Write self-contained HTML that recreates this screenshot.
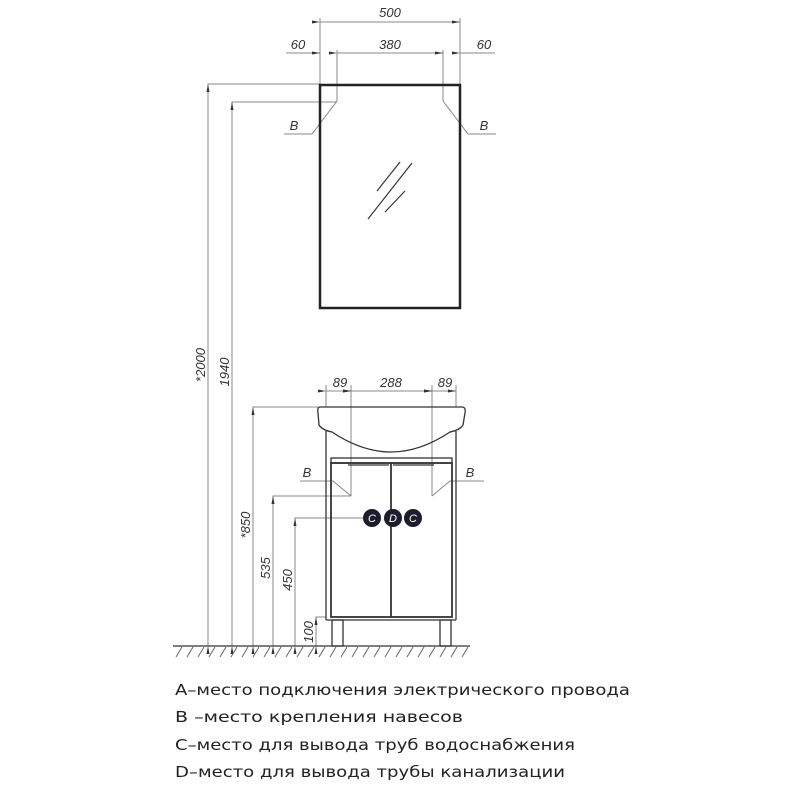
<!DOCTYPE html>
<html><head><meta charset="utf-8"><style>html,body{margin:0;padding:0;background:#fff}svg{display:block}</style></head>
<body>
<svg width="800" height="800" viewBox="0 0 800 800" xmlns="http://www.w3.org/2000/svg">
<defs>
<marker id="a" markerWidth="8" markerHeight="6" refX="8" refY="3" orient="auto" markerUnits="userSpaceOnUse"><path d="M0,1.5 L8,3 L0,4.5z" fill="#333"/></marker>
</defs>
<g stroke="#888" stroke-width="1" fill="none">
<line x1="320" y1="18" x2="320" y2="85"/>
<line x1="460" y1="18" x2="460" y2="85"/>
<line x1="320" y1="22" x2="460" y2="22" marker-start="url(#a)" marker-end="url(#a)"/>
<line x1="337" y1="50" x2="337" y2="101"/>
<line x1="443" y1="50" x2="443" y2="101"/>
<line x1="286" y1="53" x2="320" y2="53" marker-end="url(#a)"/>
<line x1="337" y1="53" x2="443" y2="53" marker-start="url(#a)" marker-end="url(#a)"/>
<line x1="460" y1="53" x2="495" y2="53" marker-start="url(#a)"/>
<polyline points="337,101 312,134 284,134"/>
<polyline points="443,101 468,134 496,134"/>
<polyline points="320,84 208,84 208,646"/>
<polyline points="337,102 232,102 232,646"/>
<line x1="208" y1="646" x2="208" y2="84" marker-end="url(#a)" marker-start="url(#a)"/>
<line x1="232" y1="646" x2="232" y2="102" marker-end="url(#a)" marker-start="url(#a)"/>
<line x1="326" y1="385" x2="326" y2="407"/>
<line x1="456" y1="385" x2="456" y2="407"/>
<line x1="351" y1="385" x2="351" y2="496"/>
<line x1="432" y1="385" x2="432" y2="496"/>
<line x1="326" y1="391" x2="351" y2="391" marker-start="url(#a)" marker-end="url(#a)"/>
<line x1="351" y1="391" x2="432" y2="391" marker-start="url(#a)" marker-end="url(#a)"/>
<line x1="432" y1="391" x2="456" y2="391" marker-start="url(#a)" marker-end="url(#a)"/>
<polyline points="318,407 253,407 253,646"/>
<line x1="253" y1="646" x2="253" y2="407" marker-end="url(#a)" marker-start="url(#a)"/>
<polyline points="351,496 273,496 273,646"/>
<line x1="273" y1="646" x2="273" y2="496" marker-end="url(#a)" marker-start="url(#a)"/>
<polyline points="365,518 295,518 295,646"/>
<line x1="295" y1="646" x2="295" y2="518" marker-end="url(#a)" marker-start="url(#a)"/>
<polyline points="326,617 316,617 316,646"/>
<line x1="316" y1="646" x2="316" y2="617" marker-end="url(#a)" marker-start="url(#a)"/>
<polyline points="351,496 333,481 300,481"/>
<polyline points="432,496 450,481 484,481"/>
</g>
<rect x="320" y="85" width="140" height="223" fill="none" stroke="#222" stroke-width="2.5"/>
<g stroke="#333" stroke-width="1.2">
<line x1="377" y1="191" x2="400" y2="162"/>
<line x1="368" y1="219" x2="412" y2="163"/>
<line x1="385" y1="212" x2="405" y2="191"/>
</g>
<g stroke="#333" stroke-width="1.3" fill="none">
<path d="M320,407 H462 Q466,407 465,413 L463,425 Q460,430 450,432 Q420,452 391,452 Q362,452 332,432 Q322,430 319,425 L318,413 Q317,407 320,407z"/>
<line x1="326" y1="431" x2="326" y2="620"/>
<line x1="456" y1="431" x2="456" y2="620"/>
<rect x="331" y="458" width="121" height="5"/>
<rect x="331" y="463" width="121" height="154" stroke-width="1.8"/>
<line x1="391" y1="463" x2="391" y2="617" stroke-width="1.8"/>
<line x1="326" y1="620" x2="456" y2="620"/>
<line x1="348" y1="465" x2="389" y2="465"/>
<line x1="393" y1="465" x2="434" y2="465"/>
<rect x="332" y="620" width="11" height="26"/>
<rect x="440" y="620" width="11" height="26"/>
</g>
<g fill="#1d1d2e"><circle cx="372" cy="518" r="9"/><circle cx="393" cy="518" r="9"/><circle cx="413" cy="518" r="9"/></g>
<g fill="#fff" font-family="Liberation Sans, sans-serif" font-style="italic" font-size="11" text-anchor="middle">
<text x="372" y="522">C</text><text x="393" y="522">D</text><text x="413" y="522">C</text></g>
<line x1="173" y1="646" x2="470" y2="646" stroke="#333" stroke-width="1.3"/>
<g stroke="#666" stroke-width="1">
<path d="M176,657l6,-10M187,657l6,-10M198,657l6,-10M209,657l6,-10M220,657l6,-10M231,657l6,-10M242,657l6,-10M253,657l6,-10M264,657l6,-10M275,657l6,-10M286,657l6,-10M297,657l6,-10M308,657l6,-10M319,657l6,-10M330,657l6,-10M341,657l6,-10M352,657l6,-10M363,657l6,-10M374,657l6,-10M385,657l6,-10M396,657l6,-10M407,657l6,-10M418,657l6,-10M429,657l6,-10M440,657l6,-10M451,657l6,-10M462,657l6,-10"/>
</g>
<g font-family="Liberation Sans, sans-serif" font-style="italic" font-size="13" fill="#333" text-anchor="middle">
<text x="390" y="17">500</text>
<text x="298" y="49">60</text>
<text x="390" y="49">380</text>
<text x="484" y="49">60</text>
<text x="294" y="130">B</text>
<text x="484" y="130">B</text>
<text x="340" y="387">89</text>
<text x="391" y="387">288</text>
<text x="445" y="387">89</text>
<text x="307" y="477">B</text>
<text x="470" y="477">B</text>
<text transform="translate(205,365) rotate(-90)">*2000</text>
<text transform="translate(229,372) rotate(-90)">1940</text>
<text transform="translate(250,525) rotate(-90)">*850</text>
<text transform="translate(270,568) rotate(-90)">535</text>
<text transform="translate(292,580) rotate(-90)">450</text>
<text transform="translate(313,632) rotate(-90)">100</text>
</g>
<g font-family="DejaVu Sans, Liberation Sans, sans-serif" font-size="15.5" fill="#222">
<text x="175" y="695" textLength="455" lengthAdjust="spacingAndGlyphs">A–место подключения электрического провода</text>
<text x="175" y="722" textLength="288" lengthAdjust="spacingAndGlyphs">B –место крепления навесов</text>
<text x="175" y="750" textLength="400" lengthAdjust="spacingAndGlyphs">C–место для вывода труб водоснабжения</text>
<text x="175" y="777" textLength="390" lengthAdjust="spacingAndGlyphs">D–место для вывода трубы канализации</text>
</g>
</svg>
</body></html>
